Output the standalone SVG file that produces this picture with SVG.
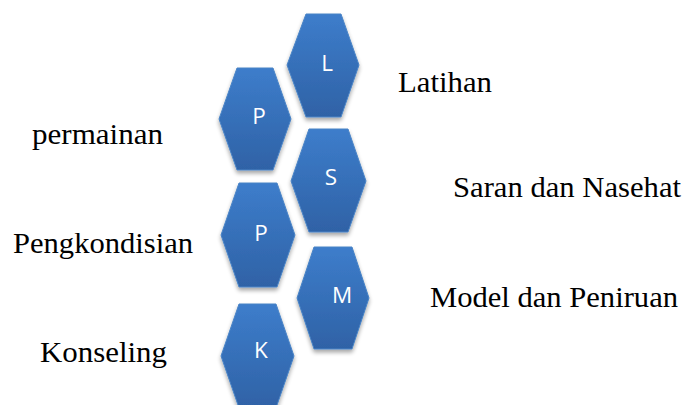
<svg xmlns="http://www.w3.org/2000/svg" width="686" height="405" viewBox="0 0 686 405">
<defs>
<linearGradient id="g" x1="0" y1="0" x2="0" y2="1">
<stop offset="0" stop-color="#3d7dcb"/>
<stop offset="1" stop-color="#2f62a6"/>
</linearGradient>
<filter id="sh" x="-20%" y="-20%" width="140%" height="140%">
<feGaussianBlur in="SourceAlpha" stdDeviation="2"/>
<feOffset dx="0" dy="3" result="b"/>
<feComponentTransfer><feFuncA type="linear" slope="0.35"/></feComponentTransfer>
<feMerge><feMergeNode/><feMergeNode in="SourceGraphic"/></feMerge>
</filter>
</defs>
<style>
.hex{fill:url(#g);stroke:#4a84c6;stroke-width:1;filter:url(#sh)}
.hl{font-family:"Open Sans","Liberation Sans",sans-serif;font-size:22.5px;fill:#ffffff;text-anchor:middle}
.lbl{font-family:"Liberation Serif",serif;font-size:29px;fill:#000000}
</style>
<rect width="686" height="405" fill="#ffffff"/>
<g id="connectors"></g>
<g id="node-L">
<polygon class="hex" points="306,14 341,14 359,65 341,117 306,117 287,65"/>
<text class="hl" x="327" y="71">L</text>
</g>
<g id="node-P1">
<polygon class="hex" points="237,68 273,68 291,119 273,170 237,170 219,119"/>
<text class="hl" x="259" y="124">P</text>
</g>
<g id="node-S">
<polygon class="hex" points="309,129 348,129 366,181 348,232 309,232 291,181"/>
<text class="hl" x="331" y="185">S</text>
</g>
<g id="node-P2">
<polygon class="hex" points="239,183 277,183 295,235 277,287 239,287 221,235"/>
<text class="hl" x="261" y="241">P</text>
</g>
<g id="node-M">
<polygon class="hex" points="314,247 352,247 369,298 352,349 314,349 297,298"/>
<text class="hl" x="342" y="303">M</text>
</g>
<g id="node-K">
<polygon class="hex" points="239,304 276,304 294,356 276,408 239,408 221,356"/>
<text class="hl" x="261" y="358">K</text>
</g>
<g id="labels">
<text class="lbl" x="398" y="92" textLength="94" lengthAdjust="spacingAndGlyphs">Latihan</text>
<text class="lbl" x="32" y="144" textLength="131" lengthAdjust="spacingAndGlyphs">permainan</text>
<text class="lbl" x="453" y="197" textLength="228" lengthAdjust="spacingAndGlyphs">Saran dan Nasehat</text>
<text class="lbl" x="13" y="253" textLength="180" lengthAdjust="spacingAndGlyphs">Pengkondisian</text>
<text class="lbl" x="430" y="307" textLength="248" lengthAdjust="spacingAndGlyphs">Model dan Peniruan</text>
<text class="lbl" x="40" y="362" textLength="127" lengthAdjust="spacingAndGlyphs">Konseling</text>
</g>
</svg>
